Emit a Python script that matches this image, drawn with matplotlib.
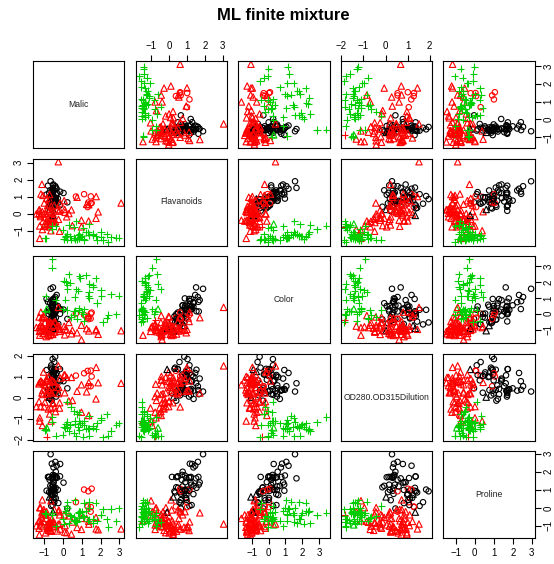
import numpy as np
import matplotlib
matplotlib.use("Agg")
import matplotlib.pyplot as plt

plt.rcParams['font.family'] = ['Liberation Sans', 'DejaVu Sans']

# wine data, rows in original order (class 1: 59, class 2: 71, class 3: 48)
malic = [
    1.71, 1.78, 2.36, 1.95, 2.59, 1.76, 1.87, 2.15, 1.64, 1.35,
    2.16, 1.48, 1.73, 1.73, 1.87, 1.81, 1.92, 1.57, 1.59, 3.10,
    1.63, 3.80, 1.86, 1.60, 1.81, 2.05, 1.77, 1.72, 1.90, 1.68,
    1.50, 1.66, 1.83, 1.53, 1.80, 1.81, 1.64, 1.65, 1.50, 3.99,
    1.71, 3.84, 1.89, 3.98, 1.77, 4.04, 3.59, 1.68, 2.02, 1.73,
    1.73, 1.65, 1.75, 1.90, 1.67, 1.73, 1.70, 1.97, 1.43,
    0.94, 1.10, 1.36, 1.25, 1.13, 1.45, 1.21, 1.01, 1.17, 0.94,
    1.19, 1.61, 1.51, 1.66, 1.67, 1.09, 1.88, 0.90, 2.89, 0.99,
    3.87, 0.92, 1.81, 1.13, 3.86, 0.89, 0.98, 1.61, 1.67, 2.06,
    1.33, 1.83, 1.51, 1.53, 2.83, 1.99, 1.52, 2.12, 1.41, 1.07,
    3.17, 2.08, 1.34, 2.45, 1.72, 1.73, 2.55, 1.73, 1.75, 1.29,
    1.35, 3.74, 2.43, 2.68, 0.74, 1.39, 1.51, 1.47, 1.61, 3.43,
    3.43, 2.40, 2.05, 4.43, 5.80, 4.31, 2.16, 1.53, 2.13, 1.63,
    4.30,
    1.35, 2.99, 2.31, 3.55, 1.24, 2.46, 4.72, 5.51, 3.59, 2.96,
    2.81, 2.56, 3.17, 4.95, 3.88, 3.57, 5.04, 4.61, 3.24, 3.90,
    3.12, 2.67, 1.90, 3.30, 1.29, 5.19, 4.12, 3.03, 1.68, 1.67,
    3.83, 3.26, 3.27, 3.45, 2.76, 4.36, 3.70, 3.37, 2.58, 4.60,
    3.03, 2.39, 2.51, 5.65, 3.91, 4.28, 2.59, 4.10,
]

flavanoids = [
    3.06, 2.76, 3.24, 3.49, 2.69, 3.39, 2.52, 2.51, 2.98, 3.15,
    3.32, 2.43, 2.76, 3.69, 3.64, 2.91, 3.14, 3.40, 3.93, 3.03,
    3.17, 2.41, 2.88, 2.37, 2.61, 2.68, 2.94, 2.19, 2.97, 2.33,
    3.25, 3.19, 2.69, 2.74, 2.53, 2.98, 2.68, 2.43, 2.64, 3.04,
    3.29, 2.68, 3.56, 2.63, 3.00, 2.65, 3.17, 3.39, 2.92, 3.54,
    3.27, 2.99, 3.74, 2.79, 2.90, 2.78, 3.00, 3.23, 3.67,
    0.57, 1.09, 1.41, 1.79, 3.10, 1.75, 2.65, 3.18, 2.00, 1.30,
    1.28, 1.02, 2.86, 1.84, 2.89, 2.14, 1.57, 2.03, 1.32, 1.85,
    2.55, 2.26, 2.53, 1.58, 1.59, 2.21, 1.94, 1.69, 1.61, 1.69,
    1.59, 1.50, 1.25, 1.46, 2.25, 2.26, 2.27, 0.99, 2.50, 3.75,
    2.99, 2.17, 1.36, 2.11, 1.64, 1.92, 1.84, 2.03, 1.76, 2.04,
    2.92, 2.58, 2.27, 2.03, 2.01, 2.29, 2.17, 1.60, 2.09, 1.25,
    1.64, 2.79, 5.08, 2.13, 2.65, 3.03, 2.65, 3.15, 2.24, 2.45,
    1.75,
    1.25, 1.22, 1.09, 1.20, 0.58, 0.66, 0.47, 0.60, 0.48, 0.60,
    0.50, 0.50, 0.52, 0.80, 0.78, 0.55, 0.34, 0.65, 0.76, 1.39,
    1.57, 1.36, 1.28, 0.83, 0.58, 0.63, 0.83, 0.58, 1.31, 1.10,
    0.92, 0.56, 0.60, 0.70, 0.68, 0.47, 0.92, 0.66, 0.84, 0.96,
    0.49, 0.51, 0.70, 0.61, 0.75, 0.69, 0.68, 0.76,
]

color_int = [
    5.64, 4.38, 5.68, 7.80, 4.32, 6.75, 5.25, 5.05, 5.20, 7.22,
    5.75, 5.00, 5.60, 5.40, 7.50, 7.30, 6.20, 6.60, 8.70, 5.10,
    5.65, 4.50, 3.80, 3.93, 3.52, 3.58, 4.80, 3.95, 4.50, 4.70,
    5.70, 6.90, 3.84, 5.40, 4.20, 5.10, 4.60, 4.25, 3.70, 5.10,
    6.13, 4.28, 5.43, 4.36, 5.04, 5.24, 4.90, 6.10, 6.20, 8.90,
    7.20, 5.60, 7.05, 6.30, 5.85, 6.25, 6.38, 6.00, 6.80,
    1.95, 3.27, 5.75, 3.80, 4.45, 2.95, 4.60, 5.30, 4.68, 3.17,
    2.85, 3.05, 3.38, 3.74, 3.35, 3.21, 3.80, 4.60, 2.65, 3.40,
    2.57, 2.50, 3.90, 2.20, 4.80, 3.05, 2.62, 2.45, 2.60, 2.80,
    1.74, 2.40, 3.60, 3.05, 2.15, 3.25, 2.60, 2.50, 2.90, 4.50,
    2.30, 3.30, 2.45, 2.80, 2.06, 2.94, 2.70, 3.40, 3.30, 2.70,
    2.65, 2.90, 2.00, 3.80, 3.08, 2.90, 1.90, 1.95, 2.06, 3.40,
    1.28, 3.25, 6.00, 2.08, 2.60, 2.80, 2.76, 3.94, 3.00, 2.12,
    2.60,
    4.10, 5.40, 5.70, 5.00, 5.45, 7.10, 3.85, 5.00, 5.70, 4.92,
    4.60, 5.60, 4.35, 4.40, 8.21, 4.00, 4.90, 7.65, 8.42, 9.40,
    8.60, 10.80, 7.10, 10.52, 7.60, 7.90, 9.01, 7.50, 13.00, 11.75,
    7.65, 5.88, 5.58, 5.28, 9.58, 6.62, 10.68, 10.26, 8.66, 8.50,
    5.50, 9.90, 9.70, 7.70, 7.30, 10.20, 9.30, 9.20,
]

od280 = [
    3.92, 3.40, 3.17, 3.45, 2.93, 2.85, 3.58, 3.58, 2.85, 3.55,
    3.17, 2.82, 2.90, 2.73, 3.00, 2.88, 2.65, 2.57, 2.82, 3.36,
    3.71, 3.52, 4.00, 3.63, 3.82, 3.20, 3.22, 2.77, 3.40, 3.59,
    2.71, 2.88, 2.87, 3.00, 2.87, 3.47, 2.78, 2.51, 2.69, 3.53,
    3.38, 3.00, 3.56, 3.00, 3.35, 3.33, 3.44, 3.33, 2.75, 3.10,
    2.91, 3.37, 3.26, 2.93, 3.20, 3.03, 3.31, 2.84, 2.87,
    1.82, 1.67, 1.59, 2.46, 2.87, 2.23, 2.30, 3.18, 3.48, 1.93,
    3.07, 1.82, 3.16, 2.78, 3.50, 3.13, 2.14, 2.48, 2.52, 2.31,
    3.13, 3.12, 3.14, 2.72, 2.01, 3.08, 3.16, 2.26, 3.21, 2.75,
    3.21, 2.27, 2.65, 2.06, 3.30, 2.96, 2.63, 2.26, 2.74, 2.77,
    2.83, 2.96, 2.77, 3.38, 2.44, 3.57, 3.30, 3.17, 2.42, 3.02,
    3.26, 2.81, 2.78, 2.50, 2.31, 3.19, 2.87, 3.33, 2.96, 2.12,
    3.05, 3.39, 3.69, 3.12, 3.10, 3.64, 3.28, 2.84, 2.44, 2.78,
    2.57,
    1.29, 1.42, 1.36, 1.29, 1.51, 1.58, 1.27, 1.69, 1.82, 2.15,
    2.31, 2.47, 2.06, 2.05, 2.00, 1.68, 1.33, 1.86, 1.62, 1.33,
    1.30, 1.47, 1.33, 1.51, 1.55, 1.48, 1.64, 1.73, 1.96, 1.78,
    1.58, 1.82, 2.11, 1.75, 1.68, 1.75, 1.56, 1.75, 1.80, 1.92,
    1.83, 1.63, 1.71, 1.74, 1.56, 1.56, 1.62, 1.60,
]

proline = [
    1065, 1050, 1185, 1480, 735, 1450, 1290, 1295, 1045, 1045,
    1510, 1280, 1320, 1150, 1547, 1310, 1280, 1130, 1680, 845,
    780, 770, 1035, 1015, 845, 830, 1195, 1285, 915, 1035,
    1285, 1515, 990, 1235, 1095, 920, 880, 1105, 1020, 760,
    795, 1035, 1095, 680, 885, 1080, 1065, 985, 1060, 1260,
    1150, 1265, 1190, 1375, 1060, 1120, 970, 1270, 1285,
    520, 680, 450, 630, 420, 355, 678, 502, 510, 750,
    718, 870, 410, 472, 985, 886, 428, 392, 500, 750,
    463, 278, 714, 630, 515, 520, 450, 495, 562, 680,
    625, 480, 450, 495, 290, 345, 937, 625, 428, 660,
    406, 710, 562, 438, 415, 672, 315, 510, 488, 312,
    680, 562, 325, 607, 434, 385, 407, 495, 345, 372,
    564, 625, 465, 365, 380, 380, 378, 352, 466, 342,
    580,
    630, 530, 560, 600, 650, 695, 720, 515, 580, 590,
    600, 780, 520, 550, 855, 830, 415, 625, 650, 550,
    500, 480, 425, 675, 640, 725, 480, 880, 660, 620,
    520, 680, 570, 675, 615, 520, 695, 685, 750, 630,
    510, 470, 660, 740, 750, 835, 840, 560,
]

# true cultivar (plotting symbol)
true_class = [1] * 59 + [2] * 71 + [3] * 48

# ML finite mixture assignment (plotting colour)
cluster = [
    1, 1, 1, 1, 1, 1, 1, 1, 1, 1,
    1, 1, 1, 1, 1, 1, 1, 1, 1, 2,
    1, 2, 1, 1, 1, 1, 1, 1, 1, 1,
    1, 1, 1, 1, 1, 1, 1, 1, 1, 2,
    1, 2, 1, 2, 1, 2, 2, 1, 1, 1,
    1, 1, 1, 1, 1, 1, 1, 1, 1,
    2, 2, 3, 2, 2, 2, 2, 2, 2, 2,
    2, 2, 2, 2, 1, 2, 2, 2, 2, 2,
    2, 2, 2, 2, 2, 2, 2, 2, 2, 2,
    2, 2, 2, 2, 2, 2, 1, 2, 2, 2,
    2, 2, 2, 2, 2, 1, 2, 2, 2, 2,
    2, 2, 2, 2, 2, 2, 2, 2, 2, 2,
    2, 2, 2, 2, 2, 2, 2, 2, 2, 2,
    2,
    2, 3, 3, 3, 3, 3, 3, 3, 3, 3,
    3, 3, 3, 3, 3, 3, 3, 3, 3, 3,
    3, 3, 3, 3, 3, 3, 3, 3, 3, 3,
    3, 3, 3, 3, 3, 3, 3, 3, 3, 3,
    3, 3, 3, 3, 3, 3, 3, 3,
]

names = ['Malic', 'Flavanoids', 'Color', 'OD280.OD315Dilution', 'Proline']

# scale() as in R
data = []
for v in [malic, flavanoids, color_int, od280, proline]:
    v = np.array(v, dtype=float)
    data.append((v - v.mean()) / v.std(ddof=1))

true_class = np.array(true_class)
palette = {1: '#000000', 2: '#FF0000', 3: '#00CD00'}
cols = np.array([palette[c] for c in cluster])

W, H = 554, 564
fig = plt.figure(figsize=(W / 100, H / 100), dpi=100)

lefts = [33, 135.5, 238, 340.5, 443]
tops = [61, 158.5, 256, 353.5, 451]
pw, ph = 91.5, 87

lims = []
for z in data:
    lo, hi = z.min(), z.max()
    pad = 0.04 * (hi - lo)
    lims.append((lo - pad, hi + pad))

n = len(names)
for i in range(n):          # row -> y variable
    for j in range(n):      # col -> x variable
        ax = fig.add_axes([lefts[j] / W, 1 - (tops[i] + ph) / H, pw / W, ph / H])
        ax.set_xlim(lims[j])
        ax.set_ylim(lims[i])
        for s in ax.spines.values():
            s.set_linewidth(0.8)
            s.set_color('#000000')

        if i == j:
            ax.text(0.5, 0.5, names[i], transform=ax.transAxes,
                    ha='center', va='center', fontsize=6.2, color='#222222')
        else:
            x, y = data[j], data[i]
            for k, mk, sz in [(1, 'o', 3.9), (2, '^', 4.6), (3, '+', 5.2)]:
                idx = true_class == k
                if mk == '+':
                    ax.scatter(x[idx], y[idx], marker=mk, s=sz ** 2,
                               c=list(cols[idx]), linewidths=0.8)
                else:
                    ax.scatter(x[idx], y[idx], marker=mk, s=sz ** 2,
                               facecolors='none', edgecolors=list(cols[idx]),
                               linewidths=0.8)

        # axes like R pairs(): alternate sides
        xt = np.arange(np.ceil(lims[j][0]), np.floor(lims[j][1]) + 1)
        yt = np.arange(np.ceil(lims[i][0]), np.floor(lims[i][1]) + 1)
        ax.tick_params(length=4.2, width=0.8, pad=3.0, labelsize=7,
                       direction='out')
        ax.tick_params(axis='y', pad=2.2)
        show_x = (i == 0 and j % 2 == 1) or (i == n - 1 and j % 2 == 0)
        show_y = (j == 0 and i % 2 == 1) or (j == n - 1 and i % 2 == 0)
        if show_x:
            ax.set_xticks(xt)
            ax.set_xticklabels([str(int(t)).replace('-', '\u2212') for t in xt])
            if i == 0:
                ax.xaxis.tick_top()
        else:
            ax.set_xticks([])
        if show_y:
            ax.set_yticks(yt)
            ax.set_yticklabels([str(int(t)).replace('-', '\u2212') for t in yt],
                               rotation=90, va='center')
            if j == n - 1:
                ax.yaxis.tick_right()
        else:
            ax.set_yticks([])

fig.text(283.75 / W, 1 - 15 / H, 'ML finite mixture', ha='center', va='center',
         fontsize=12, fontweight='bold')

fig.savefig('out.png', dpi=100)
